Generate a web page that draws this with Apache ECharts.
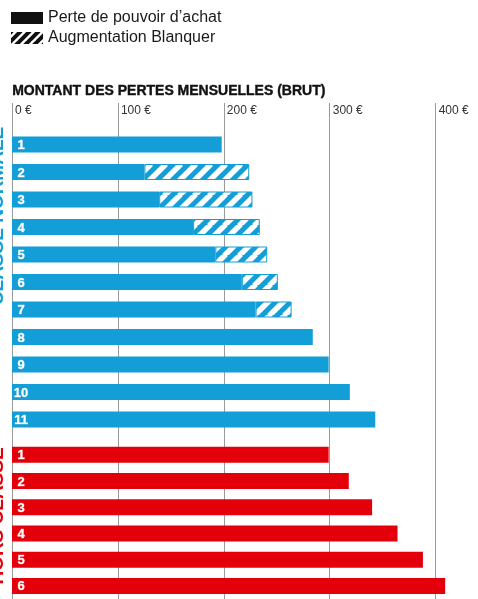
<!doctype html>
<html>
<head>
<meta charset="utf-8">
<title>Montant des pertes mensuelles</title>
<script src="https://cdn.jsdelivr.net/npm/echarts@6/dist/echarts.min.js"></script>
<style>
    html, body {margin: 0; padding: 0; background: #fff;}
    #chart {width: 478px; height: 599px;}
</style>
</head>
<body>
<div id="chart"></div>
<script type="text/javascript">
// donnees (euros bruts / mois)
var echelonsNormale = ['1', '2', '3', '4', '5', '6', '7', '8', '9', '10', '11'];
var perteNormale = [198, 125, 139, 171, 192, 217, 230, 284, 299, 319, 343];
var augmentationNormale = [0, 99, 88, 63, 49, 34, 34, 0, 0, 0, 0];
var echelonsHors = ['1', '2', '3', '4', '5', '6'];
var perteHors = [299, 318, 340, 364, 388, 409];
var xTicks = [0, 100, 200, 300, 400];

var BLUE = '#139ed8';
var RED = '#e3000b';
var FONT = '"Liberation Sans", Arial, sans-serif';

function hatch(bg, fg, size, lw) {
    var c = document.createElement('canvas');
    c.width = size; c.height = size;
    var g = c.getContext('2d');
    g.fillStyle = bg;
    g.fillRect(0, 0, size, size);
    g.strokeStyle = fg;
    g.lineWidth = lw;
    g.beginPath();
    for (var k = -1; k <= 1; k++) {
        g.moveTo(k * size - 1, size + 1);
        g.lineTo(k * size + size + 1, -1);
    }
    g.stroke();
    return c;
}
var hatchBlue = {image: hatch(BLUE, '#fff', 15, 5.5), repeat: 'repeat'};
var hatchLegend = {image: hatch('#fff', '#111', 9, 4), repeat: 'repeat'};

var barLabel = {
    show: true,
    position: [9, 9],
    align: 'center',
    verticalAlign: 'middle',
    formatter: '{b}',
    color: '#fff',
    fontFamily: FONT,
    fontWeight: 'bold',
    fontSize: 13,
    textBorderColor: 'rgba(255,255,255,0.6)',
    textBorderWidth: 0.5
};

var myChart = echarts.init(document.getElementById('chart'), null, {renderer: 'canvas'});

var xBase = {type: 'value', min: 0, max: 440, interval: 100};

var option = {
    animation: false,
    legend: {
        orient: 'vertical',
        left: 11,
        top: 10,
        padding: 0,
        itemWidth: 32,
        itemHeight: 12,
        itemGap: 4,
        icon: 'rect',
        selectedMode: false,
        textStyle: {fontFamily: FONT, fontSize: 16, color: '#1a1a1a'},
        data: ['Perte de pouvoir d’achat', 'Augmentation Blanquer']
    },
    graphic: [
        {type: 'text', left: 12, top: 84, style: {text: 'MONTANT DES PERTES MENSUELLES (BRUT)', fill: '#111', font: 'bold 14px ' + FONT, stroke: '#111', lineWidth: 0.4}},
        {type: 'text', x: 7, y: 216, rotation: Math.PI / 2, style: {text: 'CLASSE NORMALE', fill: BLUE, font: 'bold 19px ' + FONT, align: 'center', verticalAlign: 'bottom'}},
        {type: 'text', x: 7, y: 516, rotation: Math.PI / 2, style: {text: 'HORS CLASSE', fill: RED, font: 'bold 19px ' + FONT, align: 'center', verticalAlign: 'bottom'}}
    ],
    grid: [
        {left: 12, right: -1, top: 103, bottom: -10},
        {left: 12, right: -1, top: 130.75, height: 302.5},
        {left: 12, right: -1, top: 441.75, height: 165}
    ],
    xAxis: [
        Object.assign({}, xBase, {
            gridIndex: 0,
            position: 'top',
            axisLine: {show: false},
            axisTick: {show: false},
            axisLabel: {
                inside: true,
                margin: 2,
                align: 'left',
                padding: [0, 0, 0, 3],
                showMaxLabel: false,
                color: '#333',
                fontFamily: FONT,
                fontSize: 12,
                formatter: function (v) { return xTicks.indexOf(v) >= 0 ? v + ' €' : ''; }
            },
            splitLine: {show: true, lineStyle: {color: '#9a9a9a', width: 1}}
        }),
        Object.assign({}, xBase, {gridIndex: 1, show: false, splitLine: {show: false}}),
        Object.assign({}, xBase, {gridIndex: 2, show: false, splitLine: {show: false}})
    ],
    yAxis: [
        {type: 'value', gridIndex: 0, show: false, splitLine: {show: false}},
        {type: 'category', gridIndex: 1, inverse: true, data: echelonsNormale, show: false},
        {type: 'category', gridIndex: 2, inverse: true, data: echelonsHors, show: false}
    ],
    series: [
        {
            name: 'Perte de pouvoir d’achat',
            type: 'bar',
            xAxisIndex: 1, yAxisIndex: 1,
            stack: 'normale',
            barWidth: 16,
            itemStyle: {color: '#111'},
            label: barLabel,
            data: perteNormale.map(function (v) { return {value: v, itemStyle: {color: BLUE}}; })
        },
        {
            name: 'Augmentation Blanquer',
            type: 'bar',
            xAxisIndex: 1, yAxisIndex: 1,
            stack: 'normale',
            barWidth: 16,
            itemStyle: {color: hatchLegend},
            data: augmentationNormale.map(function (v) {
                return v ? {value: v, itemStyle: {color: hatchBlue, borderColor: BLUE, borderWidth: 1}} : '-';
            })
        },
        {
            name: 'Perte de pouvoir d’achat',
            type: 'bar',
            xAxisIndex: 2, yAxisIndex: 2,
            barWidth: 16,
            itemStyle: {color: '#111'},
            label: barLabel,
            data: perteHors.map(function (v) { return {value: v, itemStyle: {color: RED}}; })
        }
    ]
};

myChart.setOption(option);
</script>
</body>
</html>
